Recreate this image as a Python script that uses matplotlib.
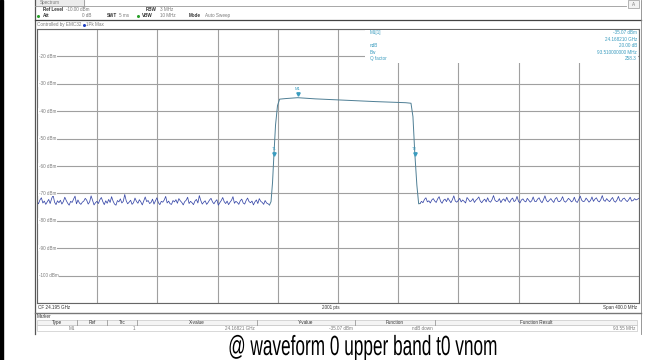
import matplotlib.pyplot as plt
import numpy as np
from matplotlib.patches import Rectangle
from matplotlib.patheffects import AbstractPathEffect
from matplotlib.transforms import Affine2D

plt.rcParams['font.family'] = ['Liberation Sans', 'DejaVu Sans']

# sweep settings
f_start, f_stop = 23.995, 24.395   # GHz, CF 24.195 GHz / span 400 MHz
ref_top, ref_bottom = -10, -110    # dBm
y_labels = [-20, -30, -40, -50, -60, -70, -80, -90, -100]

# noise floor left of the carrier (dBm), estimated from the trace
noise_left = [-72.9, -73.8, -72.4, -71.6, -73.5, -72.8, -74.0, -73.1, -72.2, -73.7,
              -71.9, -70.6, -73.2, -74.1, -72.7, -73.4, -72.5, -73.9, -73.0, -71.4,
              -72.6, -73.6, -74.3, -72.9, -73.3, -72.1, -71.0, -73.8, -72.4, -73.5,
              -74.0, -73.2, -72.8, -71.8, -72.5, -73.9, -73.1, -70.9, -72.6, -74.2,
              -73.4, -72.9, -73.7, -72.3, -71.5, -73.0, -74.1, -72.7, -73.6, -72.2,
              -73.3, -71.2, -72.8, -73.9, -74.3, -72.6, -73.1, -72.0, -73.5, -72.9,
              -70.4, -72.7, -73.8, -73.2, -72.5, -74.0, -73.4, -71.7, -72.9, -73.6,
              -72.3, -73.1, -74.2, -72.8, -71.3, -73.0, -72.6, -73.7, -73.3, -72.1,
              -73.9, -72.7, -71.6, -73.4, -74.1, -72.9, -73.2, -72.4, -71.1, -73.5,
              -72.8, -73.8, -74.0, -72.6, -73.1, -72.3, -73.6, -71.9, -72.7, -73.3,
              -74.2, -73.0, -72.5, -71.4, -73.7, -72.9, -73.4, -74.1, -72.8, -72.2,
              -73.5, -70.8, -72.6, -73.9, -73.2, -72.7, -74.0, -73.3, -72.4, -71.8,
              -73.1, -73.8, -72.9, -72.3, -74.3, -73.4, -72.6, -71.5, -73.0, -73.7,
              -72.8, -74.1, -73.2, -72.5, -71.2, -73.6, -72.9, -73.3, -74.0, -72.7,
              -72.1, -73.5, -73.9, -72.6, -71.7, -73.0, -73.4, -72.8, -74.2, -73.1,
              -72.4, -73.7, -71.9, -72.9, -73.3, -74.0, -72.6, -73.5, -73.8, -74.2]
noise_left_span = (23.995, 24.1495)

# noise floor right of the carrier (dBm)
noise_right = [-73.7, -72.9, -73.4, -72.2, -71.6, -73.1, -72.7, -73.5, -72.4, -71.9,
               -72.8, -73.3, -72.0, -71.2, -72.9, -73.6, -72.5, -72.1, -73.0, -71.7,
               -72.6, -73.4, -72.3, -70.9, -72.8, -73.2, -72.6, -71.8, -73.1, -72.4,
               -72.9, -73.5, -71.5, -72.2, -73.0, -72.7, -71.9, -73.3, -72.5, -72.0,
               -71.3, -72.8, -73.4, -72.6, -72.1, -73.1, -71.6, -72.9, -73.2, -72.3,
               -70.8, -72.5, -73.0, -72.8, -71.9, -73.4, -72.4, -72.0, -72.9, -71.4,
               -72.7, -73.3, -72.2, -71.7, -73.0, -72.6, -71.1, -72.9, -73.5, -72.4,
               -72.0, -72.8, -73.1, -71.8, -72.5, -73.2, -72.7, -71.3, -72.9, -73.0,
               -72.1, -71.6, -72.8, -73.4, -72.3, -70.9, -72.6, -73.1, -72.5, -71.9,
               -72.7, -73.3, -72.0, -71.5, -72.9, -73.0, -72.4, -71.2, -72.8, -73.2,
               -72.6, -71.8, -72.3, -73.1, -72.7, -71.4, -72.9, -73.3, -72.2, -71.0,
               -72.5, -73.0, -72.8, -71.7, -72.4, -73.2, -72.6, -71.3, -72.9, -72.1,
               -71.6, -72.7, -73.1, -72.3, -70.8, -72.5, -72.9, -71.9, -72.6, -73.0,
               -72.2, -71.5, -72.8, -73.2, -72.4, -71.1, -72.7, -72.9, -72.0, -71.7,
               -72.5, -73.0, -72.3, -71.4, -72.8, -72.6, -71.9, -72.4, -72.1, -71.8]
noise_right_span = (24.2495, 24.395)

# carrier (rise, flat top, fall)
sig_freq = [24.1495, 24.1505, 24.1515, 24.1525, 24.1535, 24.1548, 24.1562, 24.1600,
            24.1682, 24.1800, 24.2000, 24.2200, 24.2400, 24.2435, 24.2448, 24.2460,
            24.2474, 24.2486, 24.2495]
sig_dbm = [-74.2, -73.0, -66.0, -55.07, -45.0, -38.0, -35.6, -35.4,
           -35.07, -35.5, -36.0, -36.5, -36.9, -37.1, -42.0, -55.07,
           -67.0, -73.8, -73.7]

# markers
m1 = (24.16821, -35.07)
t1 = (24.1525, -55.07)
t2 = (24.2460, -55.07)

info_rows = [("M1[1]", "-35.07 dBm"), ("", "24.168210 GHz"), ("ndB", "20.00 dB"),
             ("Bw", "93.510000000 MHz"), ("Q factor", "258.3")]
table_cols = ["Type", "Ref", "Trc", "X-value", "Y-value", "Function", "Function Result"]
table_vals = ["M1", "", "1", "24.16821 GHz", "-35.07 dBm", "ndB down", "93.55 MHz"]
caption = "@ waveform 0 upper band t0 vnom"

W, H = 645, 360
fig = plt.figure(figsize=(W / 100, H / 100), dpi=100)


def box(x0, y0, x1, y1):
    return [x0 / W, 1 - y1 / H, (x1 - x0) / W, (y1 - y0) / H]


bg = fig.add_axes([0, 0, 1, 1], zorder=0)
bg.set_xlim(0, W)
bg.set_ylim(H, 0)
bg.axis('off')

ax = fig.add_axes(box(37, 29, 639, 303), zorder=1)
ov = fig.add_axes([0, 0, 1, 1], zorder=2)
ov.set_xlim(0, W)
ov.set_ylim(H, 0)
ov.axis('off')
ov.patch.set_alpha(0)

fs = 3.3
dark = '#333333'
grey = '#7a7a7a'
teal = '#3a9cbf'

# ---- outer frame / header ----
bg.add_patch(Rectangle((0, 0), 3, H, color='black'))
bg.plot([35, 35], [0, 334], color='#555555', lw=0.9)
bg.plot([35, 641], [20, 20], color='#444444', lw=0.9)
bg.plot([641, 641], [0, 334], color='#888888', lw=0.6)
bg.plot([35, 626], [5.5, 5.5], color='#999999', lw=0.6)
bg.plot([84, 84], [0, 5.5], color='#999999', lw=0.6)
bg.add_patch(Rectangle((36, 0), 48, 5.5, color='#ececec'))
bg.text(40, 2.5, "Spectrum", fontsize=fs, color=grey, va='center')
bg.add_patch(Rectangle((628, 0), 11, 8, fc='#f2f2f2', ec='#999999', lw=0.5))
bg.text(633.5, 4, "A", fontsize=fs, color=grey, ha='center', va='center')

bg.text(43, 9.7, "Ref Level", fontsize=fs, color=dark, weight='bold', va='center')
bg.text(66, 9.7, "-10.00 dBm", fontsize=fs, color=grey, va='center')
bg.text(146, 9.7, "RBW", fontsize=fs, color=dark, weight='bold', va='center')
bg.text(160, 9.7, "3 MHz", fontsize=fs, color=grey, va='center')
bg.plot([37.5], [15.7], 'o', color='#2aa02a', ms=1.2)
bg.text(43, 15.7, "Att", fontsize=fs, color=dark, weight='bold', va='center')
bg.text(91, 15.7, "0 dB", fontsize=fs, color=grey, va='center', ha='right')
bg.text(107, 15.7, "SWT", fontsize=fs, color=dark, weight='bold', va='center')
bg.text(119, 15.7, "5 ms", fontsize=fs, color=grey, va='center')
bg.plot([137.5], [15.7], 'o', color='#2aa02a', ms=1.2)
bg.text(142, 15.7, "VBW", fontsize=fs, color=dark, weight='bold', va='center')
bg.text(160, 15.7, "10 MHz", fontsize=fs, color=grey, va='center')
bg.text(189, 15.7, "Mode", fontsize=fs, color=dark, weight='bold', va='center')
bg.text(205, 15.7, "Auto Sweep", fontsize=fs, color=grey, va='center')
bg.text(37, 24.5, "Controlled by EMC32", fontsize=fs, color=grey, va='center')
bg.plot([83.5], [24.5], 'o', color='#2040c0', ms=1.2)
bg.text(85.5, 24.5, "1Pk Max", fontsize=fs, color=grey, va='center')

# ---- trace ----
fl = np.linspace(noise_left_span[0], noise_left_span[1], len(noise_left))
fr = np.linspace(noise_right_span[0], noise_right_span[1], len(noise_right))
ax.plot(fl, noise_left, color='#3848a8', lw=0.55)
ax.plot(fr, noise_right, color='#3848a8', lw=0.55)
ax.plot(sig_freq, sig_dbm, color='#4f7f95', lw=0.7)

ax.set_xlim(f_start, f_stop)
ax.set_ylim(ref_bottom, ref_top)
ax.set_xticks(np.linspace(f_start, f_stop, 11))
ax.set_yticks(np.arange(ref_bottom, ref_top + 1, 10))
ax.tick_params(length=0, labelbottom=False, labelleft=False)
ax.grid(True, color='#a0a0a0', lw=0.8)
for s in ax.spines.values():
    s.set_color('#666666')
    s.set_linewidth(0.8)

# markers
ax.plot([m1[0]], [m1[1] + 1.2], 'v', color=teal, ms=2.4)
ax.text(m1[0], m1[1] + 2.3, "M1", fontsize=3, color=teal, ha='center', va='bottom')
for name, (fx, fy) in [("T1", t1), ("T2", t2)]:
    ax.plot([fx], [fy - 0.5], 'v', color=teal, ms=2.4)
    ax.text(fx, fy + 0.5, name, fontsize=3, color=teal, ha='center', va='bottom')

# ---- overlay: y labels and marker info ----
for lv in y_labels:
    yp = 29 + (ref_top - lv) / (ref_top - ref_bottom) * (303 - 29)
    ov.text(39, yp, f"{lv} dBm", fontsize=fs, color=grey, va='center',
            bbox=dict(fc='white', ec='none', pad=0.4))

ov.add_patch(Rectangle((365, 29.5), 273, 33.5, fc='white', ec='none'))
for i, (lab, val) in enumerate(info_rows):
    yy = 32.8 + i * 6.5
    ov.text(370, yy, lab, fontsize=fs, color=teal, va='center')
    ov.text(637, yy, val, fontsize=fs, color=teal, va='center', ha='right')

# ---- footer ----
bg.text(38, 307.7, "CF 24.195 GHz", fontsize=fs, color=dark, va='center')
bg.text(331, 307.7, "2001 pts", fontsize=fs, color=dark, va='center', ha='center')
bg.text(637, 307.7, "Span 400.0 MHz", fontsize=fs, color=dark, va='center', ha='right')
bg.plot([35, 641], [312.5, 312.5], color='#777777', lw=1.0)
bg.text(37, 316.3, "Marker", fontsize=fs, color=dark, va='center')

col_edges = [37, 77, 107, 137, 257, 355, 435, 637]
bg.add_patch(Rectangle((37, 319.5), 600, 5.5, fc='#f4f4f4', ec='#bbbbbb', lw=0.4))
bg.add_patch(Rectangle((37, 325), 600, 6, fc='white', ec='#bbbbbb', lw=0.4))
for xe in col_edges[1:-1]:
    bg.plot([xe, xe], [319.5, 325], color='#888888', lw=0.5)
for i, name in enumerate(table_cols):
    cx = (col_edges[i] + col_edges[i + 1]) / 2
    bg.text(cx, 322.3, name, fontsize=fs, color=dark, va='center', ha='center')
    if table_vals[i]:
        bg.text(col_edges[i + 1] - 2, 328, table_vals[i], fontsize=fs, color=grey,
                va='center', ha='right')


# caption is drawn narrow and tall like the screenshot
class SqueezeX(AbstractPathEffect):
    def __init__(self, sx, cx):
        super().__init__()
        self.sx = sx
        self.cx = cx

    def draw_path(self, renderer, gc, tpath, affine, rgbFace=None):
        t = affine + Affine2D().translate(-self.cx, 0).scale(self.sx, 1).translate(self.cx, 0)
        renderer.draw_path(gc, tpath, t, rgbFace)


cap_x = 362.5
bg.text(cap_x, 355, caption, fontsize=20, color='black', ha='center', va='baseline',
        path_effects=[SqueezeX(0.62, cap_x)])

fig.savefig('out.png', dpi=100)
